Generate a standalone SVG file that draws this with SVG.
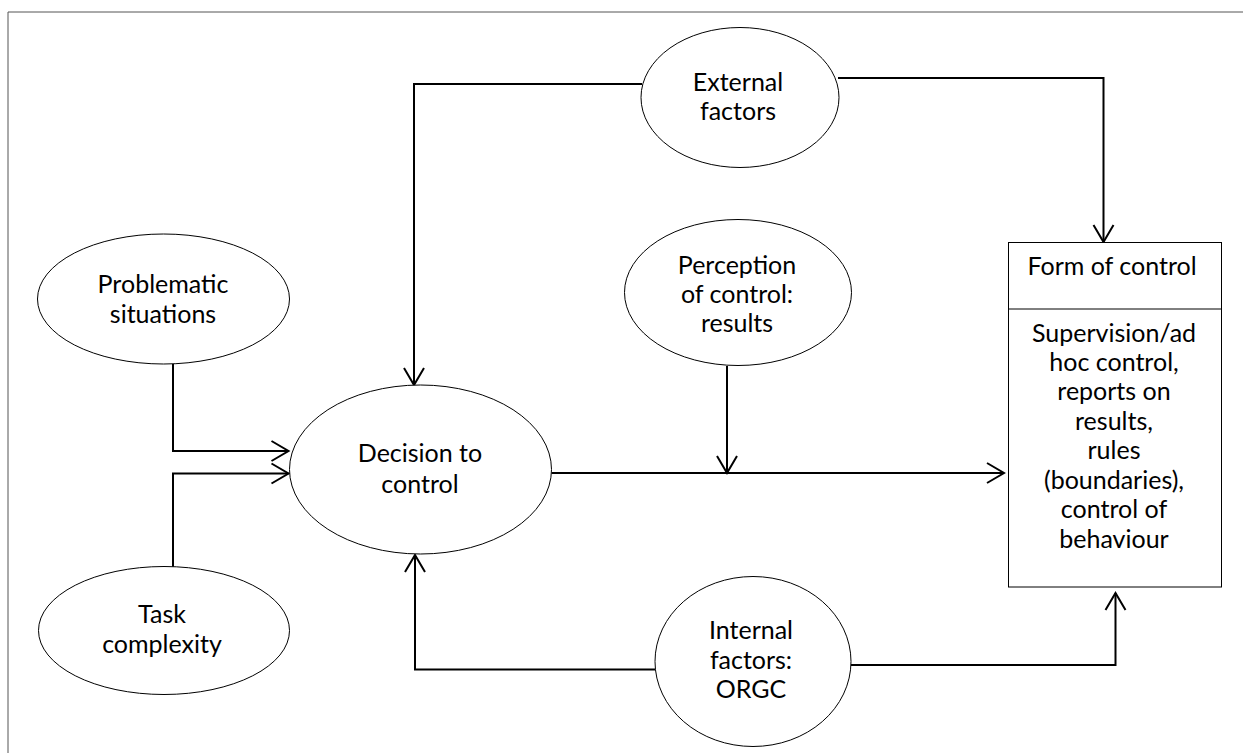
<svg xmlns="http://www.w3.org/2000/svg" width="1243" height="753" viewBox="0 0 1243 753">
<defs>
<style>
.node{fill:#ffffff;stroke:#000000;stroke-width:1}
.lbl{font-family:Lato,"Liberation Sans",sans-serif;font-size:25px;fill:#000000;text-anchor:middle}
.conn{fill:none;stroke:#000000;stroke-width:2}
</style>
<marker id="arr" viewBox="-19 -12 21 24" markerWidth="21" markerHeight="24" refX="0" refY="0" orient="auto" markerUnits="userSpaceOnUse">
<path d="M-17,-10 L0,0 L-17,10" fill="none" stroke="#000000" stroke-width="2"/>
</marker>
</defs>
<rect x="0" y="0" width="1243" height="753" fill="#ffffff"/>
<path d="M8,760 L8,12 L1250,12" fill="none" stroke="#555555" stroke-width="1"/>
<g id="connectors">
<polyline class="conn" points="642,84 414,84 414,385" marker-end="url(#arr)"/>
<polyline class="conn" points="838,78 1103.5,78 1103.5,242" marker-end="url(#arr)"/>
<polyline class="conn" points="173,364 173,451 288.5,451" marker-end="url(#arr)"/>
<polyline class="conn" points="173,567 173,473.5 288.5,473.5" marker-end="url(#arr)"/>
<polyline class="conn" points="727,366 727,473" marker-end="url(#arr)"/>
<polyline class="conn" points="551.5,473 1004,473" marker-end="url(#arr)"/>
<polyline class="conn" points="655,669.5 415,669.5 415,555" marker-end="url(#arr)"/>
<polyline class="conn" points="851,665 1115.5,665 1115.5,593" marker-end="url(#arr)"/>
</g>
<g id="external-factors">
<ellipse class="node" cx="740" cy="97.5" rx="99" ry="70"/>
<text class="lbl" x="738" y="91">External</text>
<text class="lbl" x="738" y="120">factors</text>
</g>
<g id="problematic-situations">
<ellipse class="node" cx="163.5" cy="299" rx="126" ry="65"/>
<text class="lbl" x="163" y="293">Problematic</text>
<text class="lbl" x="163" y="323">situations</text>
</g>
<g id="perception">
<ellipse class="node" cx="738" cy="292.5" rx="113.5" ry="73"/>
<text class="lbl" x="737" y="274">Perception</text>
<text class="lbl" x="737" y="303">of control:</text>
<text class="lbl" x="737" y="332">results</text>
</g>
<g id="form-of-control">
<rect class="node" x="1008.5" y="242.5" width="213" height="344.5"/>
<line x1="1008.5" y1="309" x2="1221.5" y2="309" stroke="#000000" stroke-width="1"/>
<text class="lbl" x="1112" y="275">Form of control</text>
<text class="lbl" x="1114" y="342">Supervision/ad</text>
<text class="lbl" x="1114" y="371">hoc control,</text>
<text class="lbl" x="1114" y="400">reports on</text>
<text class="lbl" x="1114" y="429.5">results,</text>
<text class="lbl" x="1114" y="459">rules</text>
<text class="lbl" x="1114" y="488.5">(boundaries),</text>
<text class="lbl" x="1114" y="518">control of</text>
<text class="lbl" x="1114" y="547.5">behaviour</text>
</g>
<g id="decision-to-control">
<ellipse class="node" cx="420.5" cy="469.5" rx="131" ry="84.5"/>
<text class="lbl" x="420" y="462">Decision to</text>
<text class="lbl" x="420" y="493">control</text>
</g>
<g id="task-complexity">
<ellipse class="node" cx="164" cy="630.5" rx="125.5" ry="64"/>
<text class="lbl" x="162" y="623">Task</text>
<text class="lbl" x="162" y="653">complexity</text>
</g>
<g id="internal-factors">
<ellipse class="node" cx="753" cy="661.5" rx="98" ry="85"/>
<text class="lbl" x="751" y="639">Internal</text>
<text class="lbl" x="751" y="669">factors:</text>
<text class="lbl" x="751" y="698">ORGC</text>
</g>
</svg>
